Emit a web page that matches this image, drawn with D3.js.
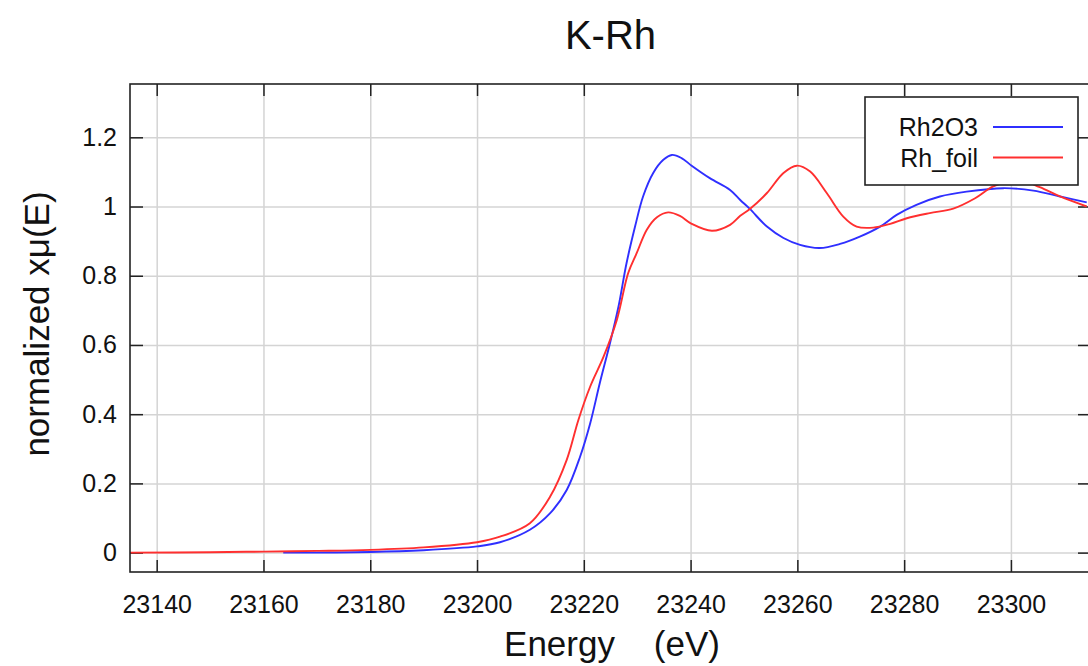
<!DOCTYPE html>
<html lang="en">
<head>
	<meta charset="utf-8">
	<title>K-Rh</title>
	<script src="https://d3js.org/d3.v7.min.js"></script>
	<style>
	body { margin: 0; background: #fff; }
	text { font-family: "Liberation Sans", Arial, sans-serif; fill: #111; }
	.grid line { stroke: #d4d4d4; stroke-width: 1.5px; }
	.grid path { display: none; }
	.axis path { display: none; }
	.axis line { stroke: #222; stroke-width: 1.5px; }
	.axis text { font-size: 25px; }
	.frame { fill: none; stroke: #222; stroke-width: 1.6px; }
	</style>
</head>
<body>
	<script>
		// Rh2O3 (blue)
		var rh2o3E = [23163.7, 23180, 23190, 23200, 23204.3, 23209.9, 23213.7, 23216.8, 23219.3, 23221.2,
			23223.0, 23224.9, 23226.5, 23228.0, 23229.6, 23231.1, 23233.0, 23234.9, 23236.5, 23238.3,
			23240.2, 23243.6, 23247.4, 23249.3, 23251.1, 23254.3, 23257.4, 23260.5, 23264.2, 23268.0,
			23271.7, 23275.5, 23278.6, 23282.3, 23286.7, 23291.7, 23298.6, 23304.2, 23309.2, 23314.2];
		var rh2o3Mu = [0.000, 0.002, 0.007, 0.018, 0.030, 0.066, 0.114, 0.181, 0.277, 0.374,
			0.490, 0.605, 0.711, 0.836, 0.942, 1.029, 1.097, 1.135, 1.149, 1.140,
			1.118, 1.082, 1.048, 1.019, 0.993, 0.942, 0.909, 0.889, 0.880, 0.892,
			0.913, 0.942, 0.976, 1.005, 1.029, 1.043, 1.053, 1.046, 1.029, 1.012];

		// Rh_foil (red)
		var foilE = [23135, 23150, 23160, 23170, 23180, 23190, 23200, 23204.3, 23209.9, 23213.7,
			23216.8, 23219.0, 23221.2, 23223.7, 23226.2, 23228.3, 23229.9, 23231.8, 23233.7, 23235.8,
			23238.0, 23240.2, 23244.0, 23247.4, 23249.3, 23251.1, 23254.3, 23257.4, 23259.9, 23262.4,
			23265.5, 23268.6, 23271.1, 23274.2, 23277.4, 23280.5, 23284.8, 23289.2, 23293.3, 23296.7,
			23301.4, 23305.4, 23309.2, 23314.2];
		var foilMu = [0.000, 0.001, 0.003, 0.005, 0.008, 0.015, 0.030, 0.046, 0.085, 0.162,
			0.268, 0.384, 0.480, 0.566, 0.673, 0.807, 0.865, 0.933, 0.969, 0.983,
			0.973, 0.950, 0.930, 0.947, 0.973, 0.993, 1.039, 1.097, 1.118, 1.101,
			1.039, 0.971, 0.942, 0.939, 0.950, 0.966, 0.981, 0.994, 1.024, 1.058,
			1.077, 1.056, 1.029, 1.000];

		var xTicks = [23140, 23160, 23180, 23200, 23220, 23240, 23260, 23280, 23300];
		var yTicks = [0, 0.2, 0.4, 0.6, 0.8, 1, 1.2];
		var seriesNames = ["Rh2O3", "Rh_foil"];
		var seriesColors = ["#2f2fff", "#ff2f2f"];

		var w = 1088, h = 666;
		var pLeft = 130, pRight = 1091, pTop = 84, pBottom = 572;

		var svg = d3.select("body").append("svg")
			.attr("width", w)
			.attr("height", h);

		var x = d3.scaleLinear().domain([23135, 23315]).range([pLeft, pRight]);
		var y = d3.scaleLinear().domain([-0.056, 1.354]).range([pBottom, pTop]);

		// grid
		svg.append("g")
			.attr("class", "grid")
			.attr("transform", "translate(0," + pBottom + ")")
			.call(d3.axisBottom(x).tickValues(xTicks).tickSize(-(pBottom - pTop)).tickFormat(""));
		svg.append("g")
			.attr("class", "grid")
			.attr("transform", "translate(" + pLeft + ",0)")
			.call(d3.axisLeft(y).tickValues(yTicks).tickSize(-(pRight - pLeft)).tickFormat(""));

		// axes with inward ticks
		svg.append("g")
			.attr("class", "axis")
			.attr("transform", "translate(0," + pBottom + ")")
			.call(d3.axisBottom(x).tickValues(xTicks).tickSize(-12).tickPadding(23).tickFormat(d3.format("d")));
		svg.append("g")
			.attr("class", "axis")
			.attr("transform", "translate(0," + pTop + ")")
			.call(d3.axisTop(x).tickValues(xTicks).tickSize(-12).tickFormat(""));
		svg.append("g")
			.attr("class", "axis")
			.attr("transform", "translate(" + pLeft + ",0)")
			.call(d3.axisLeft(y).tickValues(yTicks).tickSize(-13).tickPadding(13).tickFormat(d3.format("")));
		svg.append("g")
			.attr("class", "axis")
			.attr("transform", "translate(" + pRight + ",0)")
			.call(d3.axisRight(y).tickValues(yTicks).tickSize(-13).tickFormat(""));

		// curves
		svg.append("clipPath").attr("id", "clip")
			.append("rect").attr("x", pLeft).attr("y", pTop)
			.attr("width", pRight - pLeft).attr("height", pBottom - pTop);

		var line = d3.line()
			.x(function(d) { return x(d[0]); })
			.y(function(d) { return y(d[1]); })
			.curve(d3.curveCatmullRom.alpha(0.5));

		var series = [d3.zip(rh2o3E, rh2o3Mu), d3.zip(foilE, foilMu)];

		svg.append("g").attr("clip-path", "url(#clip)")
			.selectAll("path")
			.data(series)
			.enter().append("path")
			.attr("d", line)
			.attr("fill", "none")
			.attr("stroke", function(d, i) { return seriesColors[i]; })
			.attr("stroke-width", 1.9);

		svg.append("rect")
			.attr("class", "frame")
			.attr("x", pLeft).attr("y", pTop)
			.attr("width", pRight - pLeft).attr("height", pBottom - pTop);

		// title and labels
		svg.append("text")
			.attr("x", (pLeft + pRight) / 2).attr("y", 49)
			.attr("text-anchor", "middle")
			.style("font-size", "40px")
			.text("K-Rh");

		svg.append("text")
			.attr("x", 612).attr("y", 656)
			.attr("text-anchor", "middle")
			.style("font-size", "35px")
			.style("white-space", "pre")
			.text("Energy    (eV)");

		svg.append("text")
			.attr("transform", "translate(49,324) rotate(-90)")
			.attr("text-anchor", "middle")
			.style("font-size", "35px")
			.text("normalized xμ(E)");

		// legend
		var lg = svg.append("g");
		lg.append("rect")
			.attr("x", 865).attr("y", 97)
			.attr("width", 213).attr("height", 88)
			.attr("fill", "#fff")
			.attr("stroke", "#222")
			.attr("stroke-width", 1.6);

		seriesNames.forEach(function(name, i) {
			var cy = 127 + i * 30.5;
			lg.append("text")
				.attr("x", 978).attr("y", cy + 9)
				.attr("text-anchor", "end")
				.style("font-size", "25px")
				.text(name);
			lg.append("line")
				.attr("x1", 993).attr("x2", 1063)
				.attr("y1", cy).attr("y2", cy)
				.attr("stroke", seriesColors[i])
				.attr("stroke-width", 1.9);
		});
	</script>
</body>
</html>
